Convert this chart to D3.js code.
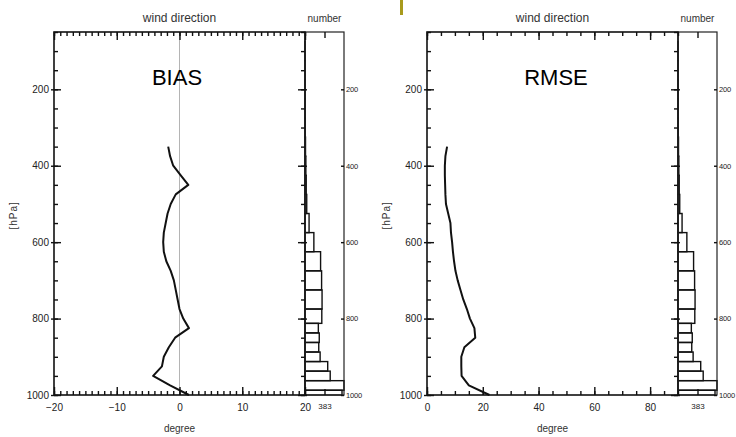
<!DOCTYPE html>
<html>
<head>
<meta charset="utf-8">
<script src="https://cdnjs.cloudflare.com/ajax/libs/d3/7.8.5/d3.min.js"></script>
<style>
body {margin:0; background:#fff;}
svg {display:block; font-family:"Liberation Sans", Arial, sans-serif;}
.ax text {fill:#222;}
.ax line {stroke:#111; stroke-width:1.4px;}
</style>
</head>
<body>
<svg id="chart" width="736" height="437"></svg>
<script>
// profile levels [hPa]
var levels = [350,375,400,425,450,475,500,525,550,575,600,625,650,675,700,725,750,775,800,825,850,875,900,925,950,975,1000];
// wind direction bias and rmse [degree]
var bias = [-1.8,-1.5,-1.0,0.2,1.4,-0.6,-1.4,-1.9,-2.2,-2.5,-2.6,-2.5,-2.1,-1.4,-0.9,-0.6,-0.3,0.0,0.6,1.5,-0.7,-1.7,-2.5,-2.8,-4.2,-1.5,1.5];
var rmse = [7.2,6.6,6.4,6.4,6.5,6.6,6.8,7.6,8.4,8.6,9.0,9.3,9.7,10.2,11.0,12.0,13.0,14.3,15.4,17.0,17.3,13.4,12.3,12.3,12.4,15.0,22.4];

// number of observations per level
var binLevels = [1000,975,950,925,900,875,850,825,800,750,700,650,600,550,500,450,400,350,300,250,200,150,100];
var counts = [727,766,495,446,297,270,280,262,330,335,326,306,174,80,34,24,17,10,6,4,3,2,1];

var pressTicks = [200,400,600,800,1000];
var biasTicks = [-20,-10,0,10,20];
var rmseTicks = [0,20,40,60,80];
var countTicks = [383];

var svg = d3.select("#chart");
var y = d3.scaleLinear().domain([50,1000]).range([32,395]);
var minorP = d3.range(50,1001,50);
var fmt = d3.format("d");

//bins: edges halfway between the levels
var bins = binLevels.map(function(p,i) {
	var below = i==0 ? p : (p + binLevels[i-1])/2;
	var above = i==binLevels.length-1 ? p - (binLevels[i-1]-p)/2 : (p + binLevels[i+1])/2;
	return {p: p, top: above, bot: below, n: counts[i]};
});

function cleanAxis(g) { g.select(".domain").remove(); }

function drawPanel(P) {
	var x = d3.scaleLinear().domain(P.domain).range([P.x0, P.x1]);
	var h = d3.scaleLinear().domain([0,766]).range([P.x1, P.h1]);
	var g = svg.append("g");

	if (P.zero) {
		g.append("line")
			.attr("x1", x(0)).attr("x2", x(0))
			.attr("y1", y(50)).attr("y2", y(1000))
			.attr("stroke", "#b4b4b4").attr("stroke-width", 1);
	}

	// histogram
	g.selectAll(".bar")
		.data(bins)
		.enter().append("rect")
		.attr("class", "bar")
		.attr("x", h(0))
		.attr("y", function(d) { return y(d.top); })
		.attr("width", function(d) { return h(d.n) - h(0); })
		.attr("height", function(d) { return y(d.bot) - y(d.top); })
		.attr("fill", "none")
		.attr("stroke", "#111")
		.attr("stroke-width", 1.4);

	// profile
	var line = d3.line()
		.x(function(d) { return x(d[0]); })
		.y(function(d) { return y(d[1]); });
	g.append("path")
		.datum(d3.zip(P.values, levels))
		.attr("d", line)
		.attr("fill", "none")
		.attr("stroke", "#111")
		.attr("stroke-width", 2)
		.attr("stroke-linejoin", "round");

	// frames
	g.append("rect")
		.attr("x", P.x0).attr("y", y(50))
		.attr("width", P.x1 - P.x0).attr("height", y(1000) - y(50))
		.attr("fill", "none").attr("stroke", "#111").attr("stroke-width", 1.6);
	g.append("rect")
		.attr("x", P.x1).attr("y", y(50))
		.attr("width", P.h1 - P.x1).attr("height", y(1000) - y(50))
		.attr("fill", "none").attr("stroke", "#222").attr("stroke-width", 1.2);

	// left pressure axis
	g.append("g").attr("class", "ax")
		.attr("transform", "translate(" + P.x0 + ",0)")
		.call(d3.axisLeft(y).tickValues(pressTicks).tickFormat(fmt).tickSizeInner(-7).tickSizeOuter(0).tickPadding(5))
		.call(cleanAxis)
		.call(function(a) {
			a.selectAll(".tick line").attr("x1", -3);
			a.selectAll("text").attr("font-size", "10px");
		});
	g.append("g").attr("class", "ax")
		.attr("transform", "translate(" + P.x0 + ",0)")
		.call(d3.axisLeft(y).tickValues(minorP).tickSizeInner(-4).tickSizeOuter(0).tickFormat(""))
		.call(cleanAxis);

	// ticks on the right edge of the main plot
	g.append("g").attr("class", "ax")
		.attr("transform", "translate(" + P.x1 + ",0)")
		.call(d3.axisRight(y).tickValues(pressTicks).tickSizeInner(-7).tickSizeOuter(0).tickFormat(""))
		.call(cleanAxis)
		.call(function(a) { a.selectAll(".tick line").attr("x1", 2); });
	g.append("g").attr("class", "ax")
		.attr("transform", "translate(" + P.x1 + ",0)")
		.call(d3.axisRight(y).tickValues(minorP).tickSizeInner(-4).tickSizeOuter(0).tickFormat(""))
		.call(cleanAxis);

	// right axis of the histogram
	g.append("g").attr("class", "ax")
		.attr("transform", "translate(" + P.h1 + ",0)")
		.call(d3.axisRight(y).tickValues(pressTicks).tickFormat(fmt).tickSizeInner(-3).tickSizeOuter(0).tickPadding(2))
		.call(cleanAxis)
		.call(function(a) { a.selectAll("text").attr("font-size", "7.5px").attr("letter-spacing", "-0.2px"); });

	// bottom / top degree axes
	g.append("g").attr("class", "ax")
		.attr("transform", "translate(0," + y(1000) + ")")
		.call(d3.axisBottom(x).tickValues(P.ticks).tickSizeInner(-8).tickSizeOuter(0).tickPadding(9))
		.call(cleanAxis)
		.call(function(a) { a.selectAll("text").attr("font-size", "10px"); });
	g.append("g").attr("class", "ax")
		.attr("transform", "translate(0," + y(1000) + ")")
		.call(d3.axisBottom(x).tickValues(P.minor).tickSizeInner(-4).tickSizeOuter(0).tickFormat(""))
		.call(cleanAxis);
	g.append("g").attr("class", "ax")
		.attr("transform", "translate(0," + y(50) + ")")
		.call(d3.axisTop(x).tickValues(P.ticks).tickSizeInner(-8).tickSizeOuter(0).tickFormat(""))
		.call(cleanAxis);
	g.append("g").attr("class", "ax")
		.attr("transform", "translate(0," + y(50) + ")")
		.call(d3.axisTop(x).tickValues(P.minor).tickSizeInner(-4).tickSizeOuter(0).tickFormat(""))
		.call(cleanAxis);

	// histogram count axis
	g.append("g").attr("class", "ax")
		.attr("transform", "translate(0," + y(1000) + ")")
		.call(d3.axisBottom(h).tickValues(countTicks).tickSizeInner(-6).tickSizeOuter(0).tickPadding(8))
		.call(cleanAxis)
		.call(function(a) { a.selectAll("text").attr("font-size", "8px"); });
	g.append("g").attr("class", "ax")
		.attr("transform", "translate(0," + y(50) + ")")
		.call(d3.axisTop(h).tickValues(countTicks).tickSizeInner(-6).tickSizeOuter(0).tickFormat(""))
		.call(cleanAxis);

	// titles
	g.append("text")
		.attr("x", (P.x0 + P.x1)/2).attr("y", 22)
		.attr("text-anchor", "middle").attr("font-size", "12px").attr("fill", "#333")
		.text("wind direction");
	g.append("text")
		.attr("x", (P.x1 + P.h1)/2).attr("y", 22)
		.attr("text-anchor", "middle").attr("font-size", "10px").attr("fill", "#333")
		.text("number");
	g.append("text")
		.attr("x", (P.x0 + P.x1)/2).attr("y", 432)
		.attr("text-anchor", "middle").attr("font-size", "10px").attr("fill", "#333")
		.text("degree");
	g.append("text")
		.attr("transform", "translate(" + (P.x0 - 37) + "," + y(530) + ") rotate(-90)")
		.attr("text-anchor", "middle").attr("font-size", "10px").attr("fill", "#333")
		.attr("letter-spacing", "1px")
		.text("[hPa]");
	g.append("text")
		.attr("x", P.labelX).attr("y", 85)
		.attr("text-anchor", "middle").attr("font-size", "22px").attr("fill", "#000")
		.text(P.label);
}

drawPanel({x0: 54, x1: 305, h1: 344, domain: [-20,20], ticks: biasTicks,
	minor: d3.range(-20,21,1), values: bias, zero: true, label: "BIAS", labelX: 177});
drawPanel({x0: 427, x1: 678, h1: 717, domain: [0,90], ticks: rmseTicks,
	minor: d3.range(0,91,5), values: rmse, zero: false, label: "RMSE", labelX: 556});

// olive mark at the top edge of the slide
svg.append("rect")
	.attr("x", 400).attr("y", 0).attr("width", 3).attr("height", 15)
	.attr("fill", "#a89a1c");
</script>
</body>
</html>
